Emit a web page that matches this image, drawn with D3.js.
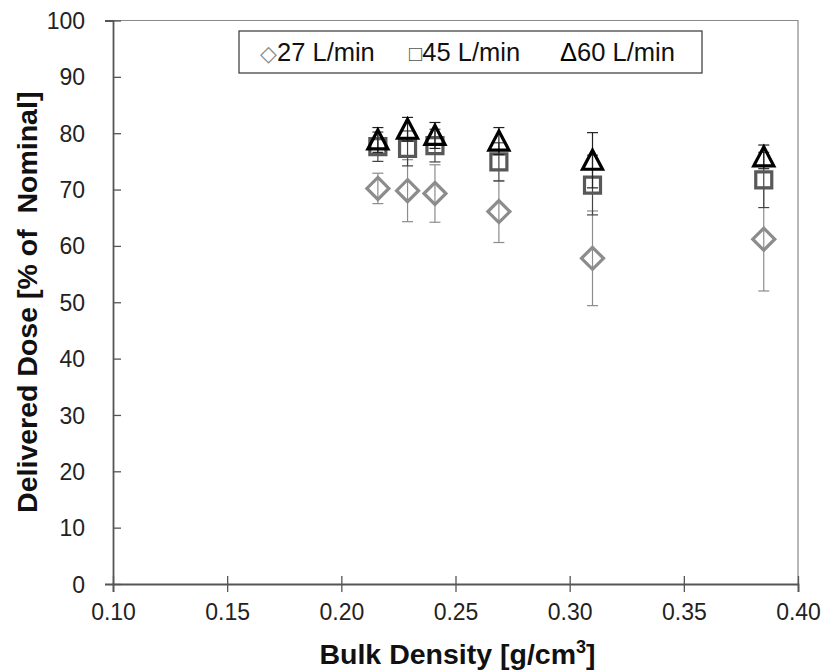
<!DOCTYPE html>
<html>
<head>
<meta charset="utf-8">
<script src="https://cdn.jsdelivr.net/npm/d3@7/dist/d3.min.js"></script>
<style>
  body { margin: 0; background: #fff; }
  svg { display: block; font-family: "Liberation Sans", Arial, sans-serif; }
</style>
</head>
<body>
<svg id="chart" width="827" height="671"></svg>
<script>
// Bulk density of each powder [g/cm3]
const density = [0.216, 0.229, 0.241, 0.269, 0.310, 0.385];

// Delivered dose [% of nominal] and standard deviation, per flow rate
const dose27 = [70.2, 69.8, 69.3, 66.1, 57.8, 61.2];
const sd27   = [2.7, 5.5, 5.1, 5.5, 8.4, 9.2];
const dose45 = [77.6, 77.3, 77.8, 74.9, 70.8, 71.7];
const sd45   = [2.6, 3.1, 2.9, 3.4, 5.3, 4.9];
const dose60 = [78.8, 80.7, 79.6, 78.6, 75.2, 75.8];
const sd60   = [2.2, 2.1, 2.3, 2.4, 4.9, 2.1];

const seriesNames = ["27 L/min", "45 L/min", "60 L/min"];
const xTicks = [0.10, 0.15, 0.20, 0.25, 0.30, 0.35, 0.40];
const yTicks = [0, 10, 20, 30, 40, 50, 60, 70, 80, 90, 100];

const svg = d3.select("#chart");
const plotL = 113, plotR = 798, plotT = 20.5, plotB = 584;

const x = d3.scaleLinear().domain([0.10, 0.40]).range([plotL, plotR]);
const y = d3.scaleLinear().domain([0, 100]).range([plotB, plotT]);

// plot frame (top and right edges)
svg.append("path")
  .attr("d", `M${plotL},${plotT}H${plotR}V${plotB}`)
  .attr("fill", "none").attr("stroke", "#8a8a8a").attr("stroke-width", 1.2);

// y axis with ticks crossing the line
const yAxis = svg.append("g").attr("transform", `translate(${plotL},0)`)
  .call(d3.axisLeft(y).tickValues(yTicks).tickFormat(d3.format("d")).tickSize(8).tickPadding(20));
yAxis.selectAll(".tick line").attr("x2", 8);
// x axis
const xAxis = svg.append("g").attr("transform", `translate(0,${plotB})`)
  .call(d3.axisBottom(x).tickValues(xTicks).tickFormat(d3.format(".2f")).tickSize(8).tickPadding(12));
xAxis.selectAll(".tick line").attr("y2", 8).attr("y1", -8);

[yAxis, xAxis].forEach(g => {
  g.select(".domain").attr("stroke", "#555").attr("stroke-width", 1.8);
  g.selectAll(".tick line").attr("stroke", "#555").attr("stroke-width", 1.3);
  g.selectAll(".tick text").attr("fill", "#222").attr("font-size", 23);
});
yAxis.selectAll(".tick text").attr("dy", "0.35em");

// axis titles
svg.append("text")
  .attr("transform", `translate(37,${(plotT + plotB) / 2}) rotate(-90)`)
  .attr("text-anchor", "middle")
  .attr("font-size", 28.5).attr("font-weight", "bold").attr("fill", "#111")
  .attr("xml:space", "preserve")
  .text("Delivered Dose [% of  Nominal]");

const xt = svg.append("text")
  .attr("x", (plotL + plotR) / 2 + 2).attr("y", 664)
  .attr("text-anchor", "middle")
  .attr("font-size", 28.5).attr("font-weight", "bold").attr("fill", "#111");
xt.append("tspan").text("Bulk Density [g/cm");
xt.append("tspan").attr("font-size", 18).attr("dy", -11).text("3");
xt.append("tspan").attr("dy", 11).text("]");

// series definitions
const series = [
  { vals: dose27, sd: sd27, shape: "diamond", stroke: "#8c8c8c", bar: "#8c8c8c" },
  { vals: dose45, sd: sd45, shape: "square",  stroke: "#585858", bar: "#444" },
  { vals: dose60, sd: sd60, shape: "triangle", stroke: "#000",   bar: "#222" }
];

function markerPath(shape) {
  if (shape === "diamond") return "M0,-11L11,0L0,11L-11,0Z";
  if (shape === "square") return "M-8,-8H8V8H-8Z";
  return "M0,-10L10,9H-10Z";
}

series.forEach(s => {
  const g = svg.append("g");
  const cap = 5.5;
  density.forEach((d, i) => {
    const cx = x(d), y1 = y(s.vals[i] + s.sd[i]), y2 = y(s.vals[i] - s.sd[i]);
    g.append("line").attr("x1", cx).attr("x2", cx).attr("y1", y1).attr("y2", y2)
      .attr("stroke", s.bar).attr("stroke-width", 1.2);
    [y1, y2].forEach(yy => g.append("line")
      .attr("x1", cx - cap).attr("x2", cx + cap).attr("y1", yy).attr("y2", yy)
      .attr("stroke", s.bar).attr("stroke-width", 1.2));
  });
  density.forEach((d, i) => {
    g.append("path")
      .attr("d", markerPath(s.shape))
      .attr("transform", `translate(${x(d)},${y(s.vals[i])})`)
      .attr("fill", "none").attr("stroke", s.stroke).attr("stroke-width", 3.2)
      .attr("stroke-linejoin", "miter");
  });
});

// legend
svg.append("rect")
  .attr("x", 239).attr("y", 31).attr("width", 463).attr("height", 42)
  .attr("fill", "#fff").attr("stroke", "#444").attr("stroke-width", 1.3);

const legendItems = [
  { sym: "\u25C7", color: "#8c8c8c", size: 22, x: 260, name: seriesNames[0] },
  { sym: "\u25A1", color: "#555", size: 22, x: 409, name: seriesNames[1] },
  { sym: "\u0394", color: "#000", size: 25.5, x: 560, name: seriesNames[2] }
];
legendItems.forEach(it => {
  const t = svg.append("text").attr("x", it.x).attr("y", 61).attr("font-size", 25.5).attr("fill", "#111");
  t.append("tspan").attr("fill", it.color).attr("font-size", it.size).text(it.sym);
  t.append("tspan").text(it.name);
});
</script>
</body>
</html>
